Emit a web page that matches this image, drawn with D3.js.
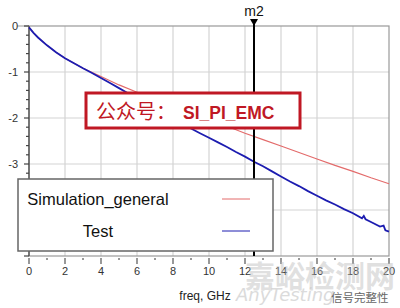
<!DOCTYPE html>
<html lang="zh">
<head>
<meta charset="UTF-8">
<title>freq, GHz</title>
<script src="https://d3js.org/d3.v7.min.js"></script>
<style>
  body { margin: 0; background: #fff; }
  svg { display: block; }
</style>
</head>
<body>
<svg id="chart" width="400" height="308"></svg>
<script>
// Simulation_general (red)
var simFreq = [0, 0.25, 0.5, 1, 1.5, 2, 3, 4, 5, 6, 7, 8, 9, 10, 11, 12, 13, 14, 15, 16, 17, 18, 19, 20];
var simLoss = [-0.03, -0.15, -0.25, -0.42, -0.57, -0.70, -0.92, -1.10, -1.28, -1.44, -1.60, -1.75, -1.90, -2.04, -2.18, -2.33, -2.47, -2.61, -2.75, -2.89, -3.03, -3.16, -3.30, -3.43];

// Test (blue)
var testFreq = [0, 0.25, 0.5, 1, 1.5, 2, 2.5, 3, 3.5, 4, 4.5, 5, 5.5, 6, 6.5, 7, 7.5, 8, 8.5, 9, 9.5, 10, 10.5, 11, 11.5, 12, 12.5, 13, 13.5, 14, 14.5, 15, 15.5, 16, 16.5, 17, 17.5, 18, 18.5, 18.6, 18.7, 19, 19.5, 19.7, 19.8, 20];
var testLoss = [-0.03, -0.15, -0.25, -0.42, -0.57, -0.70, -0.81, -0.92, -1.02, -1.13, -1.24, -1.35, -1.46, -1.57, -1.68, -1.79, -1.90, -2.01, -2.12, -2.23, -2.33, -2.43, -2.53, -2.63, -2.74, -2.84, -2.95, -3.05, -3.16, -3.27, -3.38, -3.48, -3.59, -3.69, -3.79, -3.88, -3.98, -4.07, -4.18, -4.13, -4.20, -4.26, -4.36, -4.34, -4.44, -4.47];

var xTicks = [0, 2, 4, 6, 8, 10, 12, 14, 16, 18, 20];
var yLabels = [0, -1, -2, -3];
var markerFreq = 12.5;
var seriesNames = ["Simulation_general", "Test"];

var svg = d3.select("#chart");
var x = d3.scaleLinear().domain([0, 20]).range([29, 389]);
var y = d3.scaleLinear().domain([0, -5]).range([26, 256]);

// grid
svg.append("g").selectAll("line").data(d3.range(2, 20, 2)).enter().append("line")
  .attr("x1", d => x(d)).attr("x2", d => x(d)).attr("y1", y(0)).attr("y2", y(-5))
  .attr("stroke", "#d4d4d4").attr("stroke-width", 1.2);
svg.append("g").selectAll("line").data([-1, -2, -3, -4]).enter().append("line")
  .attr("x1", x(0)).attr("x2", x(20)).attr("y1", d => y(d)).attr("y2", d => y(d))
  .attr("stroke", "#d4d4d4").attr("stroke-width", 1.2);

// frame
svg.append("rect").attr("x", x(0)).attr("y", y(0)).attr("width", x(20) - x(0)).attr("height", y(-5) - y(0))
  .attr("fill", "none").attr("stroke", "#999").attr("stroke-width", 1.2);

// y axis
svg.append("line").attr("x1", x(0)).attr("x2", x(0)).attr("y1", y(0)).attr("y2", y(-5))
  .attr("stroke", "#444").attr("stroke-width", 1.2);
svg.append("line").attr("x1", 17).attr("x2", x(0)).attr("y1", y(0)).attr("y2", y(0))
  .attr("stroke", "#999").attr("stroke-width", 1);
svg.append("g").selectAll("line").data(d3.range(0, 26).map(i => -i * 0.2)).enter().append("line")
  .attr("x1", (d, i) => i % 5 == 0 ? x(0) - 5 : x(0) - 3).attr("x2", x(0))
  .attr("y1", d => y(d)).attr("y2", d => y(d))
  .attr("stroke", "#444").attr("stroke-width", 1.2);
svg.append("g").selectAll("text").data(yLabels).enter().append("text")
  .attr("x", 18).attr("y", d => y(d) + 4)
  .attr("text-anchor", "end")
  .style("font-family", "'Liberation Sans', Arial, sans-serif").style("font-size", "11px").style("fill", "#333")
  .text(d => d == 0 ? "0" : d);

// x axis ticks below the frame
svg.append("g").selectAll("line").data(d3.range(0, 21)).enter().append("line")
  .attr("x1", d => x(d)).attr("x2", d => x(d))
  .attr("y1", y(-5) + 2).attr("y2", d => d % 2 == 0 ? y(-5) + 8 : y(-5) + 4)
  .attr("stroke", "#555").attr("stroke-width", 1.2);
svg.append("g").selectAll("text").data(xTicks).enter().append("text")
  .attr("x", d => x(d)).attr("y", 275)
  .attr("text-anchor", "middle")
  .style("font-family", "'Liberation Sans', Arial, sans-serif").style("font-size", "11px").style("fill", "#333")
  .text(d => d);
svg.append("text").attr("x", 205).attr("y", 300).attr("text-anchor", "middle")
  .style("font-family", "'Liberation Sans', Arial, sans-serif").style("font-size", "12px").style("fill", "#222")
  .text("freq, GHz");

// curves
var line = d3.line().x(d => x(d[0])).y(d => y(d[1]));
svg.append("path").datum(simFreq.map((f, i) => [f, simLoss[i]]))
  .attr("d", line).attr("fill", "none").attr("stroke", "#e36a6a").attr("stroke-width", 1.1);
svg.append("path").datum(testFreq.map((f, i) => [f, testLoss[i]]))
  .attr("d", line).attr("fill", "none").attr("stroke", "#1c1cb0").attr("stroke-width", 1.8);

// marker m2
svg.append("line").attr("x1", x(markerFreq)).attr("x2", x(markerFreq)).attr("y1", 22).attr("y2", y(-5))
  .attr("stroke", "#000").attr("stroke-width", 2);
svg.append("path")
  .attr("d", "M" + (x(markerFreq) - 4) + ",19 L" + (x(markerFreq) + 4) + ",19 L" + x(markerFreq) + ",26 Z")
  .attr("fill", "#000");
svg.append("text").attr("x", x(markerFreq)).attr("y", 16).attr("text-anchor", "middle")
  .style("font-family", "'Liberation Sans', Arial, sans-serif").style("font-size", "14px").style("fill", "#111")
  .text("m2");

// title box
svg.append("rect").attr("x", 86).attr("y", 93).attr("width", 214).attr("height", 35)
  .attr("fill", "#fff").attr("stroke", "#c01824").attr("stroke-width", 3);
var t = svg.append("text").attr("x", 96).attr("y", 119).style("fill", "#c01824");
t.append("tspan").text("公众号：")
  .style("font-family", "'Noto Sans CJK SC', sans-serif").style("font-size", "20px");
t.append("tspan").attr("x", 183).text("SI_PI_EMC")
  .style("font-family", "'Liberation Sans', Arial, sans-serif").style("font-size", "17.5px").style("font-weight", "bold");

// legend
svg.append("rect").attr("x", 18).attr("y", 179).attr("width", 255).attr("height", 72)
  .attr("fill", "#fff").attr("stroke", "#666").attr("stroke-width", 1.5);
var legendColors = ["#e36a6a", "#1c1cb0"];
var legendY = [199, 231];
svg.append("g").selectAll("text").data(seriesNames).enter().append("text")
  .attr("x", 98).attr("y", (d, i) => legendY[i] + 6).attr("text-anchor", "middle")
  .style("font-family", "'Liberation Sans', Arial, sans-serif").style("font-size", "16.5px").style("fill", "#111")
  .text(d => d);
svg.append("g").selectAll("line").data(seriesNames).enter().append("line")
  .attr("x1", 222).attr("x2", 250).attr("y1", (d, i) => legendY[i]).attr("y2", (d, i) => legendY[i])
  .attr("stroke", (d, i) => legendColors[i]).attr("stroke-width", 1);

// watermark
svg.append("text").attr("x", 245).attr("y", 287)
  .style("font-family", "'Noto Sans CJK SC', sans-serif").style("font-size", "30px").style("font-weight", "bold")
  .style("fill", "#bbb").style("opacity", 0.45).text("嘉峪检测网");
svg.append("text").attr("x", 236).attr("y", 301)
  .style("font-family", "'DejaVu Sans', sans-serif").style("font-size", "18px").style("font-style", "italic")
  .style("fill", "#ccc").style("opacity", 0.7).text("AnyTesting");
svg.append("text").attr("x", 331).attr("y", 302)
  .style("font-family", "'Noto Sans CJK SC', sans-serif").style("font-size", "11.5px")
  .style("fill", "#666").text("信号完整性");
</script>
</body>
</html>
